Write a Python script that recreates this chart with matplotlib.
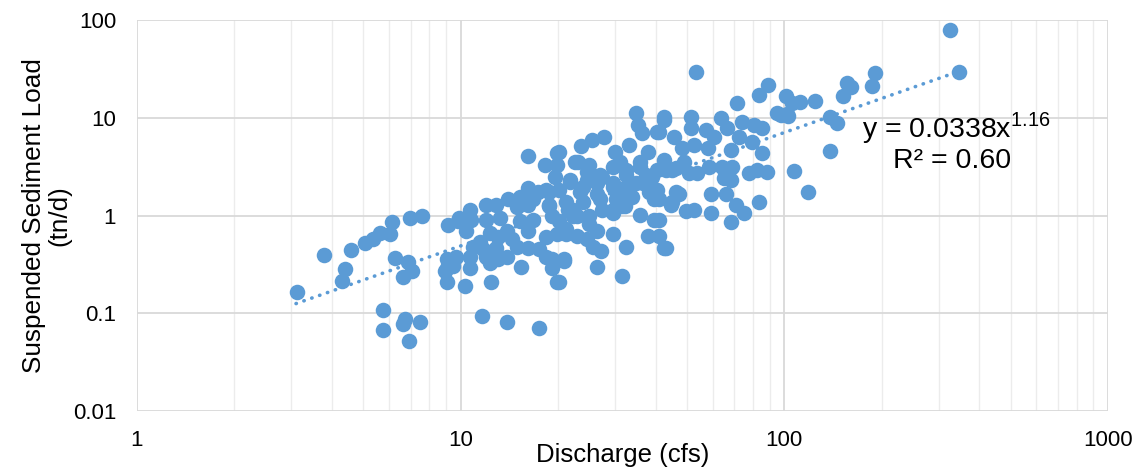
import matplotlib.pyplot as plt
import numpy as np
from matplotlib.ticker import LogLocator, NullFormatter, NullLocator

plt.rcParams['font.family'] = ['Liberation Sans', 'DejaVu Sans']
plt.rcParams['mathtext.fontset'] = 'custom'
plt.rcParams['mathtext.rm'] = 'Liberation Sans'

# discharge (cfs) and suspended sediment load (tn/d)
discharge = [
    3.12, 3.78, 4.57, 4.38, 4.29, 5.05, 5.35, 5.62, 6.12, 6.04, 6.96, 7.58,
    6.26, 6.86, 7.06, 6.62, 5.74, 5.74, 6.72, 6.62, 7.47, 6.91, 9.12, 9.79,
    8.93, 9.44,
    16.1, 19.8, 18.2, 19.8, 22.5, 19.5, 21.7, 16.1, 17.3, 18.4, 14.0, 15.2,
    12.0, 12.9, 14.9, 16.1, 18.8, 21.4, 10.7, 9.9, 10.8, 12.0, 13.2, 15.2,
    16.7, 19.2, 22.2, 10.4, 12.3, 13.9, 16.1, 11.5, 13.0, 14.4, 18.4, 19.8,
    21.2, 9.06, 9.7, 10.7, 12.0, 13.0, 13.9, 14.9, 16.1, 17.5, 18.4, 19.2,
    20.9, 9.06, 10.7, 12.3, 15.4, 19.2, 9.06, 10.3, 12.4, 19.8, 11.6, 13.9,
    17.5, 22.8, 12.9, 11.7, 10.9,
    35.2, 36.2, 40.5, 42.6, 45.7, 23.6, 25.4, 27.8, 20.2, 23.0, 25.0, 29.9,
    33.2, 37.8, 42.6, 31.0, 35.7, 27.4, 32.5, 37.5, 40.3, 45.1, 21.7, 24.5,
    29.5, 34.9, 38.3, 20.2, 23.3, 26.3, 31.0, 39.7, 46.4, 44.8, 27.4, 29.5,
    32.1, 35.7, 39.7, 21.7, 22.8, 20.2, 21.2, 25.0, 26.3, 29.5, 37.8, 24.5,
    25.6, 27.2, 32.5, 42.6, 20.9, 26.3, 31.4, 20.2, 34.7,
    24.5, 26.9, 29.5, 32.5, 35.7, 39.1, 43.2, 50.9, 18.8, 23.8, 26.3, 29.5,
    32.5, 36.5, 40.3, 16.7, 18.8, 21.2, 23.8, 26.9, 30.3, 33.9, 38.3, 22.2,
    25.0, 29.5, 31.6,
    53.5, 71.6, 83.7, 89.3, 105.9, 95.1, 102.1, 42.6, 51.6, 63.9, 74.2, 80.8,
    85.5, 41.1, 51.6, 57.4, 66.7, 60.8, 72.6, 79.6, 48.4, 52.7, 57.9, 68.6,
    85.5, 46.4, 49.1, 53.9, 58.7, 64.4, 69.1, 78.0, 82.5, 88.6, 65.3, 68.6,
    41.1, 45.1, 47.4, 49.8, 52.7, 59.5, 66.2, 59.5, 71.1, 75.3, 83.7, 68.6,
    41.1, 41.1, 43.2,
    325, 347, 190, 156, 161, 186, 152, 101, 112, 124, 98, 103, 138, 145, 138,
    107, 118,
]
load = [
    0.164, 0.391, 0.44, 0.281, 0.212, 0.518, 0.569, 0.655, 0.849, 0.64, 0.932, 1.0,
    0.364, 0.331, 0.268, 0.233, 0.107, 0.067, 0.087, 0.077, 0.081, 0.052, 0.791, 0.869,
    0.268, 0.302,
    4.1, 4.4, 3.3, 3.3, 3.5, 2.5, 2.33, 1.93, 1.76, 1.84, 1.46, 1.53,
    1.29, 1.29, 1.21, 1.29, 1.29, 1.15, 1.15, 0.95, 0.91, 0.91, 0.95, 0.87,
    0.91, 0.98, 0.98, 0.69, 0.67, 0.69, 0.69, 0.54, 0.60, 0.57, 0.60, 0.64,
    0.64, 0.36, 0.38, 0.38, 0.38, 0.36, 0.38, 0.48, 0.47, 0.45, 0.38, 0.36,
    0.36, 0.29, 0.29, 0.33, 0.30, 0.29, 0.21, 0.19, 0.21, 0.21, 0.093, 0.081,
    0.070, 0.61, 0.47, 0.45, 0.48,
    8.5, 7.0, 7.2, 9.5, 6.3, 5.1, 5.97, 6.4, 4.5, 3.56, 3.3, 4.5,
    5.3, 4.5, 3.7, 3.5, 3.5, 2.5, 2.6, 2.6, 2.95, 2.95, 2.2, 2.33,
    1.98, 2.17, 2.07, 1.84, 1.76, 1.64, 1.53, 1.46, 1.72, 1.29, 1.15, 1.07,
    1.24, 1.02, 0.91, 1.15, 0.98, 0.87, 0.72, 0.81, 0.69, 0.64, 0.61, 0.57,
    0.48, 0.43, 0.48, 0.47, 0.34, 0.30, 0.24, 0.21, 11.2,
    2.81, 2.62, 3.16, 2.95, 3.16, 2.5, 2.95, 2.75, 1.72, 1.98, 2.17, 2.17,
    1.98, 2.17, 1.84, 1.46, 1.24, 1.36, 1.36, 1.46, 1.46, 1.56, 1.72, 1.15,
    0.98, 1.15, 1.24,
    29.5, 14.2, 17.2, 21.7, 14.2, 11.2, 11.0, 10.2, 10.2, 10.0, 9.1, 8.5,
    7.9, 7.2, 7.9, 7.5, 7.9, 6.4, 6.3, 5.7, 4.9, 5.3, 4.9, 4.7,
    4.4, 3.09, 3.56, 2.75, 3.16, 3.16, 3.16, 2.75, 2.95, 2.81, 2.44, 2.33,
    1.46, 1.36, 1.64, 1.10, 1.15, 1.64, 1.64, 1.07, 1.29, 1.07, 1.36, 0.85,
    0.91, 0.61, 0.47,
    79, 29.5, 28.8, 22.8, 20.7, 21.2, 16.8, 16.8, 14.6, 14.9, 10.7, 10.5, 10.2, 8.9, 4.6,
    2.88, 1.72,
]

# power trendline y = a * x^b
fit_a = 0.0338
fit_b = 1.16
fit_range = (3.1, 340)

x_ticks = [1, 10, 100, 1000]
x_labels = ['1', '10', '100', '1000']
y_ticks = [0.01, 0.1, 1, 10, 100]
y_labels = ['0.01', '0.1', '1', '10', '100']

blue = '#5b9bd5'

fig = plt.figure(figsize=(11.4, 4.71), dpi=100)
ax = fig.add_axes([137 / 1140, 60 / 471, 971 / 1140, 391 / 471])

ax.scatter(discharge, load, s=125, c=blue, linewidths=0, zorder=3)
xt = np.geomspace(fit_range[0], fit_range[1], 200)
ax.plot(xt, fit_a * xt ** fit_b, color=blue, lw=2.6, ls=(0, (0.1, 2.2)),
        dash_capstyle='round', zorder=4)

ax.set_xscale('log')
ax.set_yscale('log')
ax.set_xlim(1, 1000)
ax.set_ylim(0.01, 100)
ax.set_xticks(x_ticks, x_labels)
ax.set_yticks(y_ticks, y_labels)
ax.xaxis.set_minor_locator(LogLocator(base=10, subs=range(2, 10)))
ax.xaxis.set_minor_formatter(NullFormatter())
ax.yaxis.set_minor_locator(NullLocator())

ax.set_axisbelow(True)
ax.grid(which='major', color='#d9d9d9', lw=1.3)
ax.grid(which='minor', axis='x', color='#ececec', lw=1)
for s in ax.spines.values():
    s.set_visible(False)

ax.tick_params(which='both', length=0, labelsize=16)
ax.tick_params(axis='x', pad=14)
ax.tick_params(axis='y', pad=15)

ax.set_xlabel('Discharge (cfs)', fontsize=18.5)
ax.xaxis.set_label_coords(0.5, -0.082)
ax.set_ylabel('Suspended Sediment Load\n(tn/d)', fontsize=18.8, linespacing=1.05)
ax.yaxis.set_label_coords(-0.068, 0.5)

fig.text(862 / 1140, 1 - 137 / 471, r'y = 0.0338x$^{\mathregular{1.16}}$',
         fontsize=20.5, va='baseline')
fig.text(893 / 1140, 1 - 168 / 471, 'R² = 0.60', fontsize=20.5, va='baseline')

fig.savefig('out.png', dpi=100)
